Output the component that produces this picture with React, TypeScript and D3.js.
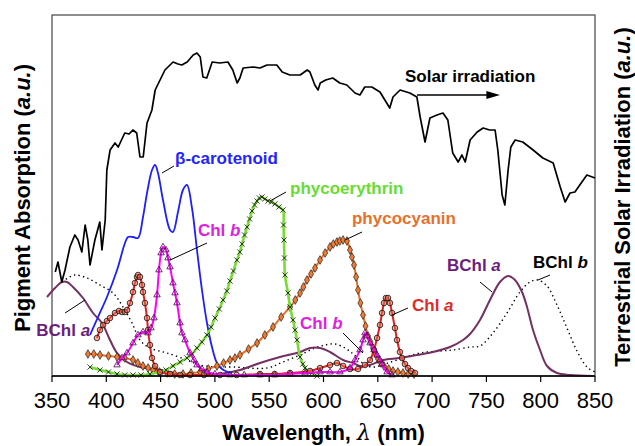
import React from 'react';
import * as d3 from 'd3';

type P = [number, number];

const xTicks = [350, 400, 450, 500, 550, 600, 650, 700, 750, 800, 850];

// Terrestrial solar irradiation (a.u.), [wavelength nm, value]
const solarIrradiation: P[] = [
  [353,104],[355.5,114],[359,94],[362,106],[366.5,129],[371,141],[374,136],[377.5,124],[380.5,151],[383,136],
  [385,111],[389.5,136],[394,154],[396,126],[399,156],[400.5,206],[403.5,226],[408,233],[411,229],[417,243],
  [421,242],[424.5,246],[428,243],[431,219],[434,219],[437.5,253],[442,266],[445,286],[449.5,296],[454,306],
  [461.5,314],[466,312],[469.5,311],[474.5,314],[480,321],[483.5,323],[486.5,319],[489,299],[492.5,298],[497.5,314],
  [504.5,313],[512,314],[516.5,306],[520.5,293],[523,298],[526,308],[535,309],[541.5,308],[548,311],[557,311],
  [562,304],[569,301],[578.5,301],[585,306],[587.5,304],[592,291],[595,286],[597,293],[602,296],[608.5,298],
  [615,293],[621.5,291],[629,283],[633.5,281],[638,289],[644.5,289],[652,284],[656.5,276],[661,268],[664,279],
  [670.5,286],[679.5,283],[686,279],[689,259],[693.5,234],[698,258],[704.5,261],[710,263],[714.5,256],[719,223],
  [724,214],[727.5,221],[730.5,214],[735,236],[741.5,244],[747,248],[753,246],[758,246],[760.5,226],[764.5,181],
  [767,171],[770,206],[772.5,229],[776.5,236],[783.5,234],[793,226],[802,218],[811.5,213],[818,189],[822.5,174],
  [827,183],[831.5,184],[836,191],[842.5,201],[850,198]
];

const betaCarotenoid: P[] = [
  [385,41],[392.4,59],[400.6,79],[409.9,106],[417.2,133],[420,139],[424.6,139],[429.2,138],[433.8,159],[437.5,183],
  [442.1,206],[444.9,211],[447.6,203],[452.2,176],[458.7,146],[461.4,144],[466,164],[470.6,186],[474.3,191],[478.9,168],
  [483.5,126],[488.1,86],[492.7,53],[497.3,29],[501.9,13],[506.5,7],[512.1,4],[515.7,3]
];

const chlB: P[] = [
  [409.9,11],[414.5,18],[419.1,23],[424.6,33],[429.2,41],[433.8,44],[438.4,43],[441.2,48],[443.9,58],[446.7,81],
  [448.5,106],[450.4,123],[452.2,129],[455,126],[456.8,118],[458.7,109],[461.4,93],[463.3,83],[465.1,73],[467.9,53],
  [469.7,43],[472.5,36],[477.1,23],[480.8,16],[483.5,11],[488.1,7],[492.7,4],[500,2],[513.9,1],[527,1],[541.5,1],
  [555,1],[569.2,2],[583,3],[596.8,4],[606,4],[615.2,4],[624.4,8],[629,16],[633.6,26],[636.4,36],[638.2,43],
  [640.1,40],[642.8,33],[646.5,26],[649.3,21],[652,16],[653.9,12],[658.5,4],[663.1,1]
];

const chlA: P[] = [
  [391.4,38],[394.2,46],[397,51],[400.6,55],[403.4,58],[408,63],[411.7,65],[414.5,64],[417.2,64],[419.1,66],
  [421.8,73],[424.6,84],[426.4,93],[428.3,99],[429.2,101],[431,99],[432.9,91],[433.8,84],[435.6,73],[437.5,58],
  [438.4,46],[440.2,31],[442.1,18],[444.9,10],[449.4,4],[458.7,2],[468,1],[477.1,1],[490,1],[504.7,1],[520,1],
  [541.5,2],[555,2],[569.2,3],[587.6,5],[596.8,8],[606,11],[612.4,13],[618,10],[624.4,7],[631.8,7],[638.2,11],
  [642.8,16],[646.5,26],[649.3,38],[652,51],[653.9,63],[655.7,73],[657.5,78],[659.4,78],[661.2,73],[663.1,63],
  [665.8,48],[667.7,36],[670.4,24],[672.3,18],[675,12],[677.8,8],[680.6,5],[684.3,3]
];

const phycoerythrin: P[] = [
  [385,9],[394.2,6],[402,4],[409.9,2],[417,1],[424.6,1],[432,1],[440.2,2],[449.4,4],[455,6],[461.4,10],[468,14],
  [474.3,18],[479,22],[483.5,28],[488,34],[492.7,41],[496.5,49],[500.1,58],[504,67],[507.5,76],[511,85],[513.9,95],
  [517,105],[520.3,116],[523,124],[525,132],[527.3,141],[529.6,149],[532,157],[534.2,165],[536.5,171],[538.8,175],
  [541,178],[543.4,179],[546,177],[548.9,175],[552,174],[555.3,172],[559,169],[562.7,166],[563.2,151],[563.6,136],
  [564,118],[564.5,101],[567.3,83],[569.2,69],[571.9,56],[573.8,46],[575.6,36],[578.4,19],[581,12],[583,8],
  [586,5],[589.4,3],[594,0]
];

const phycocyanin: P[] = [
  [383.1,22],[388.5,22],[394.2,21],[402,20],[409.9,19],[417,18],[424.6,16],[429,13],[433.8,10],[438.5,8],[443,6],
  [449,4],[455.9,3],[463,2],[470.6,2],[478,3],[486.3,4],[494,7],[501.9,10],[508,13],[513.9,16],[518.5,18],[523.1,21],
  [531,27],[538.8,33],[546,41],[553.5,49],[561,59],[569.2,69],[574,76],[578.4,83],[581.5,89],[584.8,96],[588.5,102],
  [592.2,108],[596.8,116],[601.5,123],[606,129],[609,132],[612.4,134],[615,135],[618,136],[621.6,135],[624.4,126],
  [626.2,119],[628.1,111],[630,99],[631.8,86],[634,73],[636.4,61],[638.7,50],[641,40],[643.3,34],[645.6,28],
  [648,22],[650.2,17],[653,13],[655.7,10],[660,7],[664,5],[668.5,4],[673.2,3],[678,2],[683.3,2]
];

const bchlA: P[] = [
  [345.4,79],[352.8,88],[359.2,94],[363.8,94],[369.3,89],[378.5,78],[387.8,63],[396,53],[403.4,36],[409.9,23],
  [419.1,14],[431,9],[449.4,6],[467.9,2],[486.3,1],[504.7,2],[523.1,6],[541.5,13],[559.9,19],[578.4,24],[587.6,28],
  [596.8,28],[606,24],[618,16],[627.2,13],[633.6,10],[642.8,11],[654.8,16],[670.4,18],[686.1,21],[700.8,24],
  [716.5,29],[728.5,36],[734.9,42],[744.1,56],[753.3,76],[762.5,94],[769.9,100],[776.3,96],[782.8,84],[787.4,69],
  [792.9,46],[799.4,26],[805.8,10],[815,3],[827,1],[848.2,0]
];

const bchlB: P[] = [
  [359.2,94],[364.7,98],[371.2,101],[382.2,98],[394.2,91],[406.2,83],[415.4,69],[423.7,53],[431,36],[440.2,28],
  [455.9,23],[474.3,16],[486.3,11],[501.9,9],[516.7,9],[548,8],[562.7,14],[578.4,21],[592.2,28],[601.4,31],
  [610.6,32],[619.8,28],[626.2,23],[630.8,19],[638.2,11],[647.4,9],[656.6,12],[670.4,17],[688.8,23],[707.3,25],
  [719.2,26],[734.9,29],[744.1,30],[756.1,43],[769,63],[780.9,84],[790.2,94],[797.5,96],[805.8,90],[815,71],
  [824.2,48],[833.4,25],[842.6,9],[850,4]
];

const FONT = '"Liberation Sans", Arial, Helvetica, sans-serif';

interface Label {
  main: string;
  ital?: string;
  color: string;
  at: P;
  lead?: [P, P];
}

const labels: Label[] = [
  { main: 'β-carotenoid', color: '#2424ff', at: [463.3, 212], lead: [[451.3, 203], [462.3, 210]] },
  { main: 'phycoerythrin', color: '#66dd33', at: [569.2, 182], lead: [[550.7, 175], [565.5, 184]] },
  { main: 'phycocyanin', color: '#e8702a', at: [626.2, 152], lead: [[619.8, 136], [635.5, 144]] },
  { main: 'Chl ', ital: 'b', color: '#e020e0', at: [484.4, 140], lead: [[492.7, 133], [458.7, 116]] },
  { main: 'Chl ', ital: 'b', color: '#e020e0', at: [578.4, 47], lead: [[618.0, 43], [636.4, 23]] },
  { main: 'Chl ', ital: 'a', color: '#e02a2a', at: [681.5, 65], lead: [[663.1, 61], [677.8, 68]] },
  { main: 'BChl ', ital: 'a', color: '#6b1f80', at: [335.5, 40], lead: [[362.0, 63], [380.4, 76]] },
  { main: 'BChl ', ital: 'a', color: '#6b1f80', at: [713.7, 105], lead: [[744.1, 94], [755.2, 84]] },
  { main: 'BChl ', ital: 'b', color: '#000000', at: [792.9, 108], lead: [[797.5, 96], [808.6, 101]] },
];

export default function App() {
  const W = 635, H = 446;
  const left = 52, right = 595, top = 15, bottom = 376;
  const x = d3.scaleLinear().domain([350, 850]).range([left, right]);
  const y = d3.scaleLinear().domain([0, 361]).range([bottom, top]);
  const ys = d3.scaleLinear().domain([0, 361]).range([bottom, top]);

  const smooth = d3.line<P>().x(d => x(d[0])).y(d => y(d[1])).curve(d3.curveCatmullRom.alpha(0.5));
  const jag = d3.line<P>().x(d => x(d[0])).y(d => ys(d[1]));

  const tri = d3.symbol().type(d3.symbolTriangle).size(18)() as string;
  const dia = d3.symbol().type(d3.symbolDiamond).size(22)() as string;
  const cross = 'M-2.6,-2.6L2.6,2.6M-2.6,2.6L2.6,-2.6';

  return (
    <svg width={W} height={H} style={{ position: 'absolute', left: 0, top: 0, background: '#fff' }} fontFamily={FONT}>
      <rect x={0} y={0} width={W} height={H} fill="#fff" />
      {/* frame */}
      <rect x={left} y={top} width={right - left} height={bottom - top} fill="none" stroke="#444" strokeWidth={1.2} />

      {/* BChl b dotted */}
      <path d={smooth(bchlB) || ''} fill="none" stroke="#000" strokeWidth={1.4} strokeDasharray="1.4 3.2" />
      {/* BChl a */}
      <path d={smooth(bchlA) || ''} fill="none" stroke="#733060" strokeWidth={2} />
      {/* beta carotenoid */}
      <path d={smooth(betaCarotenoid) || ''} fill="none" stroke="#1e1eff" strokeWidth={1.8} />
      {/* phycocyanin */}
      <path d={smooth(phycocyanin) || ''} fill="none" stroke="#e8702a" strokeWidth={2} />
      {phycocyanin.map((d, i) => (
        <path key={'pc' + i} d={dia} transform={`translate(${x(d[0])},${y(d[1])})`} fill="#f07a30" stroke="#222" strokeWidth={0.7} />
      ))}
      {/* phycoerythrin */}
      <path d={smooth(phycoerythrin) || ''} fill="none" stroke="#77dd33" strokeWidth={2.6} />
      {phycoerythrin.map((d, i) => (
        <path key={'pe' + i} d={cross} transform={`translate(${x(d[0])},${y(d[1])})`} fill="none" stroke="#111" strokeWidth={0.8} />
      ))}
      {/* Chl a */}
      <path d={smooth(chlA) || ''} fill="none" stroke="#e02020" strokeWidth={2} />
      {chlA.map((d, i) => (
        <circle key={'ca' + i} cx={x(d[0])} cy={y(d[1])} r={2.8} fill="#f0704e" fillOpacity={0.55} stroke="#111" strokeWidth={0.8} />
      ))}
      {/* Chl b */}
      <path d={smooth(chlB) || ''} fill="none" stroke="#ff00ff" strokeWidth={2} />
      {chlB.map((d, i) => (
        <path key={'cb' + i} d={tri} transform={`translate(${x(d[0])},${y(d[1])})`} fill="none" stroke="#4a004a" strokeWidth={0.8} />
      ))}
      {/* solar irradiation */}
      <path d={jag(solarIrradiation) || ''} fill="none" stroke="#000" strokeWidth={1.7} strokeLinejoin="round" />

      {/* bottom axis */}
      <line x1={left} x2={right} y1={bottom} y2={bottom} stroke="#000" strokeWidth={1.5} />
      {xTicks.map(t => (
        <g key={t}>
          <line x1={x(t)} x2={x(t)} y1={bottom} y2={bottom + 6} stroke="#000" strokeWidth={1.2} />
          <text x={x(t)} y={408} textAnchor="middle" fontSize={22} fill="#000">{t}</text>
        </g>
      ))}

      {/* labels */}
      {labels.map((l, i) => (
        <g key={'l' + i}>
          {l.lead && (
            <line x1={x(l.lead[0][0])} y1={y(l.lead[0][1])} x2={x(l.lead[1][0])} y2={y(l.lead[1][1])} stroke="#000" strokeWidth={1} />
          )}
          <text x={x(l.at[0])} y={y(l.at[1])} fontSize={17} fontWeight="bold" fill={l.color}>
            {l.main}
            {l.ital && <tspan fontStyle="italic">{l.ital}</tspan>}
          </text>
        </g>
      ))}

      {/* solar label and arrow */}
      <text x={x(675)} y={ys(294)} fontSize={17} fontWeight="bold" fill="#000">Solar irradiation</text>
      <line x1={x(686.1)} y1={ys(281)} x2={x(755)} y2={ys(281)} stroke="#000" strokeWidth={1.5} />
      <path d={`M${x(762.5)},${ys(281)}L${x(750)},${ys(281) - 4}L${x(750)},${ys(281) + 4}Z`} fill="#000" />

      {/* axis titles */}
      <text x={(left + right) / 2} y={440} textAnchor="middle" fontSize={22} fontWeight="bold" fill="#000">
        Wavelength, <tspan fontFamily="DejaVu Serif" fontStyle="italic" fontWeight="normal">λ</tspan> (nm)
      </text>
      <text transform={`translate(30,198) rotate(-90)`} textAnchor="middle" fontSize={22} fontWeight="bold" fill="#000">
        Pigment Absorption (<tspan fontStyle="italic">a.u.</tspan>)
      </text>
      <text transform={`translate(630,197) rotate(-90)`} textAnchor="middle" fontSize={22} fontWeight="bold" fill="#000">
        Terrestrial Solar Irradiation (<tspan fontStyle="italic">a.u.</tspan>)
      </text>
    </svg>
  );
}
